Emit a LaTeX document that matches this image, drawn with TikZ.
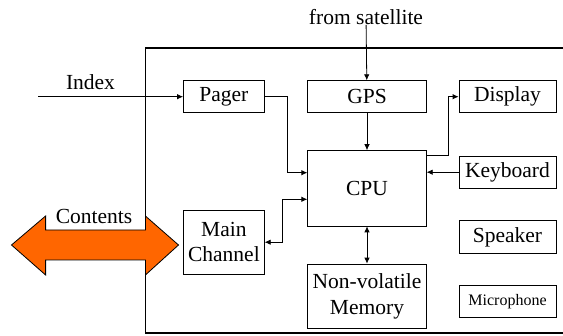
\documentclass[tikz,border=0pt]{standalone}
\usepackage{fontspec}
\setmainfont{Liberation Serif}
\usetikzlibrary{arrows.meta}
\definecolor{arroworange}{RGB}{255,102,0}
\begin{document}
\begin{tikzpicture}[x=1pt,y=-1pt]

\tikzstyle{block}=[draw,line width=0.8pt,inner sep=0pt,align=center,font=\fontsize{21.5}{24.5}\selectfont]
\tikzstyle{lbl}=[inner sep=0pt,font=\fontsize{21.5}{24.5}\selectfont]
\tikzstyle{wire}=[line width=0.8pt,-{Latex[length=6pt,width=5.5pt]}]
\tikzstyle{twoway}=[line width=0.8pt,{Latex[length=6pt,width=5.5pt]}-{Latex[length=6pt,width=5.5pt]}]

\useasboundingbox (0,0) rectangle (563,336);

% frame of the unit
\draw[line width=1.6pt] (563,48.3) -- (145.4,48.3) -- (145.4,333) -- (563,333);

\node[block,minimum width=80.8pt,minimum height=32pt] (1) at (223.9,96.7) {Pager};
\node[block,minimum width=118.5pt,minimum height=32pt] (2) at (367,96.7) {GPS};
\node[block,minimum width=97pt,minimum height=32pt] (3) at (507.5,96.7) {Display};
\node[block,minimum width=118.5pt,minimum height=75.3pt] (4) at (367,188.3) {CPU};
\node[block,minimum width=97pt,minimum height=32.3pt] (5) at (507.5,172.2) {Keyboard};
\node[block,minimum width=97pt,minimum height=32.6pt] (6) at (507.5,237) {Speaker};
\node[block,minimum width=97pt,minimum height=32pt,font=\fontsize{16}{19}\selectfont] (7) at (507.5,301.7) {Microphone};
\node[block,minimum width=80.8pt,minimum height=64.3pt] (8) at (223.9,242.2) {Main\\Channel};
\node[block,minimum width=118.5pt,minimum height=64.3pt,font=\fontsize{21.5}{25.5}\selectfont] (9) at (367,296.2) {Non-volatile\\Memory};

\node[lbl] (10) at (366,17) {from satellite};
\node[lbl] (11) at (90.5,82) {Index};
\coordinate (12) at (38.4,96.7);

\draw[wire] (10) -- (2);
\draw[wire] (12) -- (1);
\draw[wire] (2) -- (4);
\draw[wire] (1.east) -- ++(22.3,0) |- ([yshift=15.6pt]4.west);
\draw[twoway] (8.east) -- ++(17.6,0) |- ([yshift=-11pt]4.west);
\draw[wire] ([yshift=32.6pt]4.east) -- ++(21.9,0) |- (3.west);
\draw[wire] (5.west) -- (4.east |- 5.west);
\draw[twoway] (4) -- (9);

% double arrow to the outside
\draw[line width=0.8pt,fill=arroworange] (11.5,245) -- (45.6,216) -- (45.6,230) -- (145.4,230) -- (145.4,216) -- (178.5,245) -- (145.4,275) -- (145.4,260) -- (45.6,260) -- (45.6,275) -- cycle;
\node[lbl] (13) at (94,216) {Contents};

\end{tikzpicture}
\end{document}
